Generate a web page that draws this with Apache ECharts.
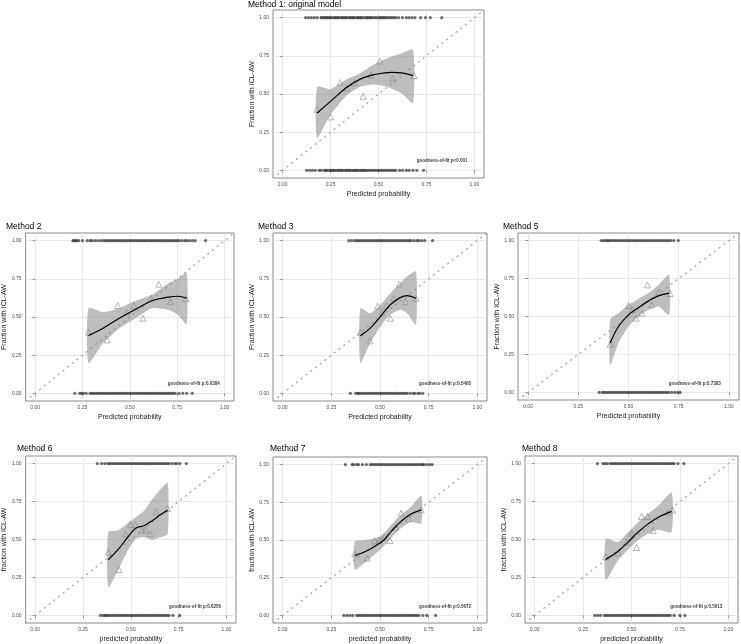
<!DOCTYPE html>
<html>
<head>
<meta charset="utf-8">
<script src="https://cdn.jsdelivr.net/npm/echarts@6/dist/echarts.min.js"></script>
<style>
  html,body{margin:0;padding:0;background:#fff}
  #chart{width:741px;height:644px}
</style>
</head>
<body>
<div id="chart"></div>
<script>
// tick labels shared by every panel
const tickVals = [0, 0.25, 0.5, 0.75, 1];
const tickLabels = ['0.00', '0.25', '0.50', '0.75', '1.00'];

const titles = ['Method 1: original model', 'Method 2', 'Method 3', 'Method 5', 'Method 6', 'Method 7', 'Method 8'];
const xNames = ['Predicted probability', 'Predicted probability', 'Predicted probability', 'Predicted probability',
  'predicted probability', 'predicted probability', 'predicted probability'];
const yNames = ['Fraction with ICL-AW', 'Fraction with ICL-AW', 'Fraction with ICL-AW', 'Fraction with ICL-AW',
  'fraction with ICL-AW', 'fraction with ICL-AW', 'fraction with ICL-AW'];
const gofText = ['goodness-of-fit p<0.001', 'goodness-of-fit p:0.0384', 'goodness-of-fit p:0.5495', 'goodness-of-fit p:0.7383',
  'goodness-of-fit p:0.6256', 'goodness-of-fit p:0.5672', 'goodness-of-fit p:0.5013'];
const gofPos = [0.70, 0.06];

// loess fit + confidence band (x, fit, lower, upper)
const m1X   = [0.18, 0.25, 0.33, 0.40, 0.47, 0.52, 0.57, 0.62, 0.68];
const m1Fit = [0.376, 0.452, 0.539, 0.594, 0.625, 0.636, 0.642, 0.638, 0.62];
const m1Lo  = [0.212, 0.365, 0.485, 0.546, 0.562, 0.555, 0.535, 0.505, 0.441];
const m1Hi  = [0.546, 0.533, 0.594, 0.633, 0.69, 0.72, 0.745, 0.765, 0.79];

const m2X   = [0.282, 0.359, 0.445, 0.531, 0.617, 0.703, 0.754, 0.80];
const m2Fit = [0.379, 0.427, 0.492, 0.551, 0.606, 0.63, 0.636, 0.623];
const m2Lo  = [0.198, 0.329, 0.427, 0.492, 0.558, 0.547, 0.514, 0.453];
const m2Hi  = [0.558, 0.532, 0.558, 0.606, 0.645, 0.721, 0.75, 0.79];

const m3X   = [0.399, 0.45, 0.502, 0.553, 0.604, 0.639, 0.685];
const m3Fit = [0.377, 0.427, 0.503, 0.58, 0.627, 0.64, 0.623];
const m3Lo  = [0.198, 0.329, 0.438, 0.514, 0.547, 0.525, 0.449];
const m3Hi  = [0.558, 0.525, 0.58, 0.656, 0.721, 0.765, 0.797];

const m5X   = [0.409, 0.45, 0.50, 0.55, 0.60, 0.649, 0.702];
const m5Fit = [0.325, 0.434, 0.511, 0.559, 0.603, 0.636, 0.654];
const m5Lo  = [0.182, 0.325, 0.434, 0.50, 0.544, 0.566, 0.511];
const m5Hi  = [0.482, 0.522, 0.577, 0.616, 0.654, 0.708, 0.774];

const m6X   = [0.382, 0.433, 0.484, 0.526, 0.569, 0.612, 0.654, 0.693];
const m6Fit = [0.367, 0.433, 0.515, 0.574, 0.591, 0.624, 0.663, 0.693];
const m6Lo  = [0.185, 0.298, 0.428, 0.504, 0.515, 0.498, 0.515, 0.537];
const m6Hi  = [0.548, 0.559, 0.607, 0.646, 0.689, 0.765, 0.83, 0.874];

const m7X   = [0.37, 0.425, 0.477, 0.52, 0.563, 0.605, 0.657, 0.712];
const m7Fit = [0.398, 0.424, 0.461, 0.50, 0.565, 0.62, 0.67, 0.70];
const m7Lo  = [0.304, 0.352, 0.409, 0.461, 0.522, 0.576, 0.62, 0.609];
const m7Hi  = [0.489, 0.50, 0.511, 0.543, 0.609, 0.663, 0.717, 0.793];

const m8X   = [0.367, 0.431, 0.483, 0.534, 0.586, 0.638, 0.707];
const m8Fit = [0.369, 0.423, 0.484, 0.549, 0.603, 0.646, 0.685];
const m8Lo  = [0.234, 0.364, 0.434, 0.495, 0.538, 0.564, 0.549];
const m8Hi  = [0.505, 0.484, 0.549, 0.614, 0.668, 0.722, 0.809];

// grouped observed fractions (triangles)
const m1Tri = [[0.18,0.40],[0.25,0.35],[0.30,0.575],[0.335,0.54],[0.375,0.575],[0.42,0.485],[0.46,0.625],[0.507,0.715],[0.573,0.60],[0.685,0.62]];
const m2Tri = [[0.282,0.40],[0.38,0.35],[0.436,0.575],[0.483,0.532],[0.522,0.575],[0.569,0.492],[0.612,0.623],[0.653,0.715],[0.715,0.601],[0.797,0.62]];
const m3Tri = [[0.399,0.40],[0.45,0.344],[0.488,0.573],[0.51,0.53],[0.533,0.575],[0.553,0.492],[0.57,0.623],[0.599,0.715],[0.63,0.601],[0.685,0.623]];
const m5Tri = [[0.409,0.318],[0.50,0.572],[0.52,0.545],[0.538,0.489],[0.566,0.522],[0.594,0.708],[0.616,0.577],[0.649,0.66],[0.707,0.651]];
const m6Tri = [[0.382,0.417],[0.438,0.302],[0.472,0.537],[0.497,0.598],[0.523,0.598],[0.557,0.563],[0.577,0.563],[0.601,0.537],[0.632,0.683],[0.692,0.704]];
const m7Tri = [[0.37,0.409],[0.434,0.38],[0.472,0.496],[0.494,0.50],[0.52,0.52],[0.551,0.496],[0.581,0.583],[0.609,0.678],[0.648,0.641],[0.712,0.70]];
const m8Tri = [[0.367,0.386],[0.431,0.412],[0.474,0.484],[0.50,0.542],[0.526,0.447],[0.552,0.651],[0.583,0.651],[0.612,0.56],[0.69,0.68],[0.712,0.694]];

// predicted probabilities of observed events (top) and non-events (bottom)
const m1Top = [0.12,0.135,0.15,0.165,0.18,0.2,0.205,0.215,0.22,0.23,0.235,0.245,0.25,0.26,0.27,0.275,0.285,0.29,0.3,0.31,0.315,0.325,0.33,0.34,0.35,0.355,0.365,0.37,0.38,0.39,0.395,0.405,0.41,0.42,0.43,0.44,0.445,0.455,0.46,0.47,0.48,0.49,0.5,0.51,0.515,0.525,0.53,0.54,0.55,0.56,0.57,0.58,0.59,0.605,0.625,0.645,0.66,0.675,0.69,0.72,0.745,0.77,0.83];
const m1Bot = [0.125,0.14,0.155,0.17,0.19,0.2,0.215,0.225,0.23,0.24,0.25,0.255,0.265,0.27,0.28,0.29,0.295,0.305,0.31,0.32,0.33,0.335,0.345,0.35,0.36,0.37,0.375,0.385,0.39,0.4,0.41,0.415,0.425,0.43,0.44,0.45,0.46,0.47,0.48,0.49,0.5,0.51,0.52,0.53,0.54,0.55,0.56,0.57,0.58,0.59,0.61,0.625,0.645,0.66,0.68,0.7,0.735];
const m2Top = [0.2,0.205,0.215,0.22,0.23,0.25,0.275,0.29,0.3,0.315,0.33,0.345,0.36,0.37,0.38,0.39,0.4,0.41,0.42,0.43,0.44,0.45,0.46,0.47,0.48,0.49,0.5,0.51,0.52,0.53,0.54,0.55,0.56,0.57,0.58,0.59,0.6,0.61,0.62,0.63,0.64,0.65,0.66,0.67,0.68,0.69,0.7,0.71,0.72,0.73,0.74,0.75,0.76,0.775,0.79,0.8,0.815,0.83,0.845,0.9];
const m2Bot = [0.21,0.235,0.245,0.255,0.27,0.29,0.3,0.31,0.32,0.33,0.34,0.35,0.36,0.37,0.38,0.39,0.4,0.41,0.42,0.43,0.44,0.45,0.46,0.47,0.48,0.49,0.5,0.51,0.52,0.53,0.54,0.55,0.56,0.57,0.58,0.59,0.6,0.61,0.62,0.63,0.64,0.65,0.66,0.67,0.68,0.69,0.7,0.71,0.72,0.73,0.74,0.76,0.78,0.8,0.83];
const m3Top = [0.34,0.355,0.37,0.38,0.39,0.4,0.41,0.42,0.43,0.44,0.45,0.46,0.47,0.48,0.49,0.5,0.51,0.52,0.53,0.54,0.55,0.56,0.57,0.58,0.59,0.6,0.61,0.62,0.63,0.64,0.65,0.66,0.675,0.69,0.7,0.715,0.73,0.77];
const m3Bot = [0.348,0.375,0.385,0.39,0.4,0.41,0.42,0.43,0.44,0.45,0.46,0.47,0.48,0.49,0.5,0.51,0.52,0.53,0.54,0.55,0.56,0.57,0.58,0.59,0.6,0.61,0.62,0.63,0.64,0.655,0.67,0.68,0.695,0.705,0.72];
const m5Top = [0.364,0.375,0.385,0.395,0.4,0.41,0.42,0.43,0.44,0.45,0.46,0.47,0.48,0.49,0.5,0.51,0.52,0.53,0.54,0.55,0.56,0.57,0.58,0.59,0.6,0.61,0.62,0.63,0.64,0.65,0.66,0.67,0.68,0.69,0.7,0.71,0.725,0.748];
const m5Bot = [0.354,0.37,0.38,0.39,0.4,0.41,0.42,0.43,0.44,0.45,0.46,0.47,0.48,0.49,0.5,0.51,0.52,0.53,0.54,0.55,0.56,0.57,0.58,0.59,0.6,0.61,0.62,0.63,0.64,0.65,0.66,0.67,0.68,0.69,0.7,0.715,0.73,0.745,0.757];
const m6Top = [0.325,0.347,0.364,0.38,0.39,0.4,0.41,0.42,0.43,0.44,0.45,0.46,0.47,0.48,0.49,0.5,0.51,0.52,0.53,0.54,0.55,0.56,0.57,0.58,0.59,0.6,0.61,0.62,0.63,0.64,0.65,0.66,0.67,0.68,0.69,0.7,0.715,0.73,0.74,0.756,0.79];
const m6Bot = [0.342,0.355,0.365,0.37,0.38,0.39,0.4,0.41,0.42,0.43,0.44,0.45,0.46,0.47,0.48,0.49,0.5,0.51,0.52,0.53,0.54,0.55,0.56,0.57,0.58,0.59,0.6,0.61,0.62,0.63,0.64,0.65,0.66,0.67,0.68,0.69,0.7,0.72,0.756];
const m7Top = [0.322,0.357,0.365,0.38,0.39,0.41,0.43,0.45,0.46,0.47,0.48,0.49,0.5,0.51,0.52,0.53,0.54,0.55,0.56,0.57,0.58,0.59,0.6,0.61,0.62,0.63,0.64,0.65,0.66,0.67,0.68,0.69,0.7,0.71,0.72,0.725,0.74,0.755,0.768];
const m7Bot = [0.314,0.33,0.345,0.36,0.38,0.39,0.4,0.41,0.42,0.43,0.44,0.45,0.46,0.47,0.48,0.49,0.5,0.51,0.52,0.53,0.54,0.55,0.56,0.57,0.58,0.59,0.6,0.61,0.62,0.63,0.64,0.65,0.66,0.67,0.68,0.69,0.7,0.72,0.74,0.786];
const m8Top = [0.324,0.353,0.365,0.375,0.39,0.4,0.41,0.42,0.43,0.44,0.45,0.46,0.47,0.48,0.49,0.5,0.51,0.52,0.53,0.54,0.55,0.56,0.57,0.58,0.59,0.6,0.61,0.62,0.63,0.64,0.65,0.66,0.67,0.68,0.69,0.7,0.71,0.72,0.74,0.77];
const m8Bot = [0.31,0.325,0.34,0.36,0.37,0.38,0.39,0.4,0.41,0.42,0.43,0.44,0.45,0.46,0.47,0.48,0.49,0.5,0.51,0.52,0.53,0.54,0.55,0.56,0.57,0.58,0.59,0.6,0.61,0.62,0.63,0.64,0.65,0.66,0.67,0.68,0.69,0.7,0.72,0.75,0.776];

const panelData = [
  {x: m1X, fit: m1Fit, lo: m1Lo, hi: m1Hi, tri: m1Tri, top: m1Top, bot: m1Bot},
  {x: m2X, fit: m2Fit, lo: m2Lo, hi: m2Hi, tri: m2Tri, top: m2Top, bot: m2Bot},
  {x: m3X, fit: m3Fit, lo: m3Lo, hi: m3Hi, tri: m3Tri, top: m3Top, bot: m3Bot},
  {x: m5X, fit: m5Fit, lo: m5Lo, hi: m5Hi, tri: m5Tri, top: m5Top, bot: m5Bot},
  {x: m6X, fit: m6Fit, lo: m6Lo, hi: m6Hi, tri: m6Tri, top: m6Top, bot: m6Bot},
  {x: m7X, fit: m7Fit, lo: m7Lo, hi: m7Hi, tri: m7Tri, top: m7Top, bot: m7Bot},
  {x: m8X, fit: m8Fit, lo: m8Lo, hi: m8Hi, tri: m8Tri, top: m8Top, bot: m8Bot}
];

// panel layout (px)
const layout = [
  {left: 273, top: 10,  width: 211, height: 168, tl: 248, tt: 0},
  {left: 21,  top: 233, width: 213, height: 168, tl: 6,   tt: 222},
  {left: 273, top: 233, width: 214, height: 168, tl: 258, tt: 222},
  {left: 518, top: 233, width: 221, height: 167, tl: 503, tt: 222},
  {left: 21,  top: 456, width: 215, height: 169, tl: 17,  tt: 444},
  {left: 273, top: 457, width: 214, height: 169, tl: 270, tt: 444},
  {left: 525, top: 456, width: 213, height: 169, tl: 522, tt: 444}
];

const FONT = 'Liberation Sans, Arial, sans-serif';
const grids = [], xAxes = [], yAxes = [], series = [], titleList = [];

layout.forEach((l, i) => {
  const d = panelData[i];
  grids.push({left: l.left, top: l.top, width: l.width, height: l.height, show: true,
    borderColor: '#8a8a8a', borderWidth: 1, backgroundColor: '#fff'});
  titleList.push({text: titles[i], left: l.tl, top: l.tt, padding: 0,
    textStyle: {fontSize: 8.5, fontWeight: 500, color: '#000', fontFamily: FONT}});
  const axisCommon = {
    gridIndex: i, type: 'value', min: -0.05, max: 1.05,
    nameLocation: 'middle',
    nameTextStyle: {fontSize: 7, color: '#1a1a1a', fontFamily: FONT},
    axisLine: {show: false},
    splitLine: {show: false},
    axisTick: {show: true, customValues: tickVals, length: 2.5, lineStyle: {color: '#555', width: 0.6}},
    axisLabel: {customValues: tickVals, fontSize: 5, color: '#4d4d4d', fontFamily: FONT, margin: 4,
      formatter: v => tickLabels[tickVals.indexOf(v)] || ''}
  };
  xAxes.push(Object.assign({}, axisCommon, {name: xNames[i], nameGap: 13}));
  yAxes.push(Object.assign({}, axisCommon, {name: yNames[i], nameGap: 15}));

  const ax = {xAxisIndex: i, yAxisIndex: i};
  // grid lines + diagonal reference
  series.push(Object.assign({
    type: 'line', silent: true, z: 1, symbol: 'none',
    data: [[-0.05, -0.05], [1.05, 1.05]],
    lineStyle: {color: '#a8a8a8', width: 1.3, type: [1, 5], cap: 'round'},
    markLine: {
      silent: true, symbol: 'none', label: {show: false}, z: 0,
      lineStyle: {color: '#e2e2e2', width: 0.8, type: 'solid'},
      data: tickVals.map(v => ({xAxis: v})).concat(tickVals.map(v => ({yAxis: v})))
    }
  }, ax));
  // confidence band
  series.push(Object.assign({
    type: 'custom', silent: true, z: 2,
    data: [[d.x[0], d.lo[0]]],
    renderItem: (params, api) => {
      const up = d.x.map((x, k) => api.coord([x, d.hi[k]]));
      const dn = d.x.map((x, k) => api.coord([x, d.lo[k]])).reverse();
      return {type: 'polygon', shape: {points: up.concat(dn), smooth: 0.2},
        style: {fill: 'rgba(125,125,125,0.5)'}};
    }
  }, ax));
  // fitted curve
  series.push(Object.assign({
    type: 'line', silent: true, z: 4, symbol: 'none', smooth: 0.4,
    data: d.x.map((x, k) => [x, d.fit[k]]),
    lineStyle: {color: '#000', width: 1.2}
  }, ax));
  // grouped observed
  series.push(Object.assign({
    type: 'scatter', silent: true, z: 3, symbol: 'triangle', symbolSize: 6,
    data: d.tri,
    itemStyle: {color: 'rgba(0,0,0,0)', borderColor: '#8c8c8c', borderWidth: 0.8}
  }, ax));
  // rugs
  series.push(Object.assign({
    type: 'scatter', silent: true, z: 3, symbol: 'circle', symbolSize: 3.2,
    data: d.top.map(x => [x, 1]).concat(d.bot.map(x => [x, 0])),
    itemStyle: {color: '#333', opacity: 0.7}
  }, ax));
  // goodness-of-fit annotation
  series.push(Object.assign({
    type: 'scatter', silent: true, z: 5, symbolSize: 0,
    data: [gofPos],
    label: {show: true, position: 'right', distance: 0, formatter: gofText[i],
      fontSize: 4.5, fontWeight: 'bold', color: '#000', fontFamily: FONT}
  }, ax));
});

const chart = echarts.init(document.getElementById('chart'), null, {renderer: 'canvas'});
chart.setOption({
  animation: false,
  backgroundColor: '#fff',
  title: titleList,
  grid: grids,
  xAxis: xAxes,
  yAxis: yAxes,
  series: series
});
</script>
</body>
</html>
